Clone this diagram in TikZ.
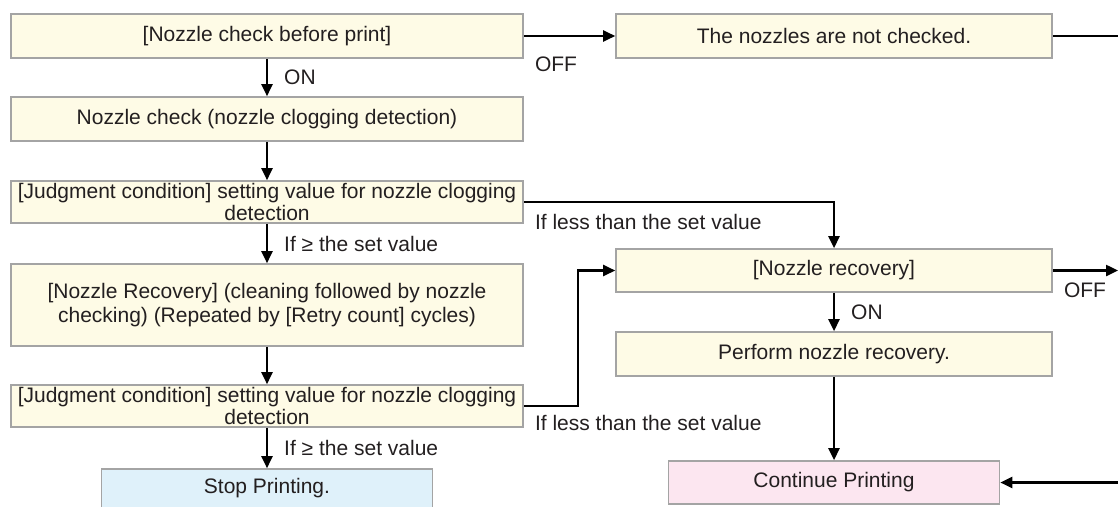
\documentclass[tikz,border=0pt]{standalone}
\usepackage{fontspec}
\setmainfont{Liberation Sans}
\usetikzlibrary{arrows.meta, positioning}
\definecolor{boxfill}{HTML}{FEFBE6}
\definecolor{boxline}{HTML}{A4A4A4}
\definecolor{stopfill}{HTML}{DFF1FA}
\definecolor{contfill}{HTML}{FCE6F0}
\definecolor{inkgray}{HTML}{231F20}

\begin{document}
\begin{tikzpicture}[x=1pt, y=-1pt, >={Triangle[length=12pt, width=11pt]},
    every node/.style={font=\fontsize{21}{22}\selectfont, text=inkgray},
    box/.style={draw=boxline, line width=1.6pt, fill=boxfill, inner sep=0pt, minimum height=44pt, align=center},
    wide/.style={box, minimum width=512pt},
    side/.style={box, minimum width=436pt},
    flow/.style={->, line width=2.4pt},
    lbl/.style={inner sep=0pt, anchor=west}]
    \useasboundingbox (0,0) rectangle (1118,506);

    % left column
    \node[wide] (chk) at (267,36) {[Nozzle check before print]};
    \node[wide, below of=chk, node distance=83pt] (det) {Nozzle check (nozzle clogging detection)};
    \node[wide, below of=det, node distance=83pt, minimum height=42pt] (judge1) {[Judgment condition] setting value for nozzle clogging\\detection};
    \node[wide, below of=judge1, node distance=103pt, minimum height=82pt, font=\fontsize{21}{24}\selectfont] (recov) {[Nozzle Recovery] (cleaning followed by nozzle\\checking) (Repeated by [Retry count] cycles)};
    \node[wide, below of=recov, node distance=101pt, minimum height=42pt] (judge2) {[Judgment condition] setting value for nozzle clogging\\detection};
    \node[box, below of=judge2, node distance=84pt, minimum width=331pt, minimum height=42pt, fill=stopfill, text depth=6pt, text height=12pt] (stop) {Stop Printing.};

    % right column
    \node[side, right of=chk, node distance=567pt] (nochk) {The nozzles are not checked.};
    \node[side, below of=nochk, node distance=234.5pt, minimum height=43pt] (rec) {[Nozzle recovery]};
    \node[side, below of=rec, node distance=83.5pt] (perf) {Perform nozzle recovery.};
    \node[box, below of=perf, node distance=128.5pt, minimum width=331pt, minimum height=43pt, fill=contfill] (cont) {Continue Printing};

    % loose ends at the right border
    \coordinate (edgetop) at (1118,36);
    \coordinate (edgemid) at (1118,270.5);
    \coordinate (edgelow) at (1118,482.5);

    \draw[flow] (chk) -- node[lbl, at start, xshift=10pt, yshift=-28pt] {OFF} (nochk);
    \draw[line width=2.4pt] (nochk) -- (edgetop);
    \draw[flow] (chk) -- node[lbl, midway, xshift=16pt] {ON} (det);
    \draw[flow] (det) -- (judge1);
    \draw[flow] (judge1.east) -| node[lbl, at start, xshift=10pt, yshift=-20pt] {If less than the set value} (rec.north);
    \draw[flow] (judge1) -- node[lbl, midway, xshift=16pt] {If ≥ the set value} (recov);
    \draw[flow] (recov) -- (judge2);
    \draw[flow] (judge2) -- node[lbl, midway, xshift=16pt] {If ≥ the set value} (stop);
    \draw[flow] (judge2.east) -- node[lbl, at start, xshift=10pt, yshift=-17pt] {If less than the set value} ++(54,0) |- (rec.west);
    \draw[flow] (rec) -- node[lbl, at start, xshift=10pt, yshift=-20pt] {OFF} (edgemid);
    \draw[flow] (rec) -- node[lbl, midway, xshift=16pt] {ON} (perf);
    \draw[flow] (perf) -- (cont);
    \draw[flow] (edgelow) -- (cont);
\end{tikzpicture}
\end{document}
